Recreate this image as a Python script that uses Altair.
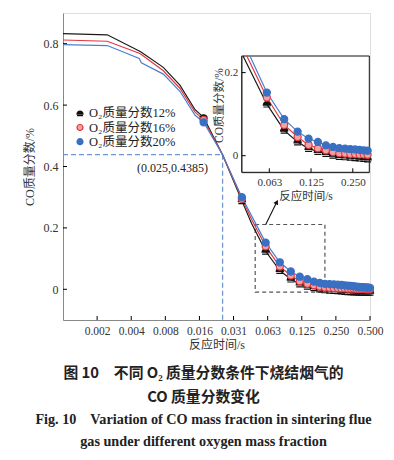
import altair as alt
import pandas as pd

# ---------------- data ----------------
series_names = ["O₂质量分数12%", "O₂质量分数16%", "O₂质量分数20%"]

# line-only samples (reaction time, s)
line_time = [0.000977, 0.0024, 0.0046, 0.0048, 0.0075, 0.0105, 0.0143, 0.025, 0.045]
line_black = [0.833, 0.829, 0.776, 0.772, 0.723, 0.665, 0.585, 0.4385, 0.215]
line_red = [0.812, 0.808, 0.769, 0.765, 0.712, 0.655, 0.577, 0.4385, 0.228]
line_blue = [0.797, 0.794, 0.752, 0.738, 0.701, 0.645, 0.567, 0.4385, 0.240]

# marker samples
mark_time = [0.017, 0.037, 0.06, 0.08, 0.10, 0.12, 0.14, 0.16, 0.18, 0.20, 0.22, 0.24,
             0.26, 0.28, 0.30, 0.32, 0.34, 0.36, 0.38, 0.40, 0.42, 0.44, 0.46, 0.48, 0.50]
mark_black = [0.560, 0.288, 0.124, 0.061, 0.033, 0.017, 0.010, 0.005, 0.001, -0.002, -0.003, -0.004,
              -0.005, -0.006, -0.007, -0.008, -0.008, -0.009, -0.009, -0.010, -0.010, -0.010, -0.010, -0.010, -0.010]
mark_red = [0.552, 0.295, 0.140, 0.074, 0.045, 0.026, 0.018, 0.013, 0.009, 0.006, 0.005, 0.004,
            0.004, 0.003, 0.003, 0.002, 0.002, 0.002, 0.001, 0.001, 0.001, 0.001, 0.000, 0.000, 0.000]
mark_blue = [0.544, 0.300, 0.152, 0.088, 0.058, 0.041, 0.033, 0.025, 0.021, 0.018, 0.017, 0.016,
             0.015, 0.014, 0.013, 0.012, 0.011, 0.010, 0.009, 0.008, 0.007, 0.007, 0.006, 0.006, 0.005]

# where each curve enters the inset through its top edge
inset_entry_time = [0.0404, 0.043, 0.0453]
inset_entry_value = [0.24, 0.24, 0.24]

# axes
x_ticks = [2 ** -9, 2 ** -8, 2 ** -7, 2 ** -6, 2 ** -5, 2 ** -4, 2 ** -3, 2 ** -2, 2 ** -1]
y_ticks = [0, 0.2, 0.4, 0.6, 0.8]
inset_x_ticks = [0.0625, 0.125, 0.25]
inset_y_ticks = [0, 0.2]
x_domain = [2 ** -10, 0.5]
y_domain = [-0.1, 0.9]
inset_x_domain = [0.0395, 0.329]
inset_y_domain = [-0.04, 0.24]

# annotation
mark_point_t, mark_point_v = 0.025, 0.4385
zoom_box_t = [0.0485, 0.2]
zoom_box_v = [-0.009, 0.211]
arrow_t = [0.0601, 0.0752]
arrow_v = [0.211, 0.284]

# ---------------- tables ----------------
lines_rows, pts_rows = [], []
for s, lv, mv in zip(series_names, [line_black, line_red, line_blue], [mark_black, mark_red, mark_blue]):
    for t, v in zip(line_time, lv):
        lines_rows.append({"s": s, "t": t, "v": v})
    for t, v in zip(mark_time, mv):
        lines_rows.append({"s": s, "t": t, "v": v})
        pts_rows.append({"s": s, "t": t, "v": v})
lines_df = pd.DataFrame(lines_rows).sort_values(["s", "t"])
pts_df = pd.DataFrame(pts_rows)

inset_lines = [{"s": s, "t": t, "v": v} for s, t, v in zip(series_names, inset_entry_time, inset_entry_value)]
inset_lines += [r for r in lines_rows if 0.06 <= r["t"] <= 0.34]
inset_lines_df = pd.DataFrame(inset_lines).sort_values(["s", "t"])
inset_pts_df = pts_df[(pts_df.t >= 0.06) & (pts_df.t <= 0.32)]

# ---------------- style ----------------
W, H = 307, 307
SERIF = "Liberation Serif, Noto Sans CJK SC"
C_LINE = ["#1a1a1a", "#e0393f", "#4a7fd0"]
C_FILL = ["#111111", "#f3a2a4", "#3a70c2"]
C_STROKE = ["#111111", "#e0393f", "#3a70c2"]
HALF = "M-1,0.25A1,1,0,0,1,1,0.25Z M-1,0.8L1,0.8"
SHAPES = [HALF, "circle", "circle"]

IX_RANGE = [178.7, 306.3]
IY_RANGE = [159.3, 43.0]
LEGEND_ROWS = [100.3, 128.7]

AX_COMMON = dict(grid=False, tickSize=0, titleFontWeight="normal", titleFont=SERIF, titleColor="#333",
                 labelFont="Liberation Serif", labelColor="#333", labelOverlap=False, labelFlush=False)

xs = alt.Scale(type="log", base=2, domain=x_domain, nice=False)
ys = alt.Scale(domain=y_domain, nice=False, zero=False)
x_axis = alt.Axis(values=x_ticks, format=".3f", title="反应时间/s", labelPadding=5,
                  titlePadding=3, labelFontSize=11.5, titleFontSize=12, **AX_COMMON)
y_axis = alt.Axis(values=y_ticks, labelExpr="datum.value == 0 ? '0' : format(datum.value, '.1f')",
                  title="CO质量分数/%", labelPadding=5, titlePadding=7, labelFontSize=12,
                  titleFontSize=12, **AX_COMMON)


def mx(f="t"):
    return alt.X(f"{f}:Q", scale=xs, axis=x_axis)


def my(f="v"):
    return alt.Y(f"{f}:Q", scale=ys, axis=y_axis)


ixs = alt.Scale(type="log", base=2, domain=inset_x_domain, nice=False, range=IX_RANGE, clamp=True)
iys = alt.Scale(domain=inset_y_domain, nice=False, zero=False, range=IY_RANGE, clamp=True)
ix_axis = alt.Axis(values=inset_x_ticks, format=".3f", title="反应时间/s", orient="bottom",
                   offset=IY_RANGE[0] - H, labelPadding=4, titlePadding=3,
                   labelFontSize=11, titleFontSize=11.5, **AX_COMMON)
iy_axis = alt.Axis(values=inset_y_ticks, labelExpr="datum.value == 0 ? '0' : format(datum.value, '.1f')",
                   title="CO质量分数/%", orient="left", offset=-IX_RANGE[0], labelPadding=4,
                   labelFontSize=11, titleFontSize=11.5, titleX=-17, titleY=92, **AX_COMMON)


def ix(f="t"):
    return alt.X(f"{f}:Q", scale=ixs, axis=ix_axis)


def iy(f="v"):
    return alt.Y(f"{f}:Q", scale=iys, axis=iy_axis)


sc_fill = alt.Scale(domain=series_names, range=C_FILL)
sc_stroke = alt.Scale(domain=series_names, range=C_STROKE)
sc_shape = alt.Scale(domain=series_names, range=SHAPES)
color_enc = alt.Color("s:N", scale=alt.Scale(domain=series_names, range=C_LINE), legend=None)
fill_enc = alt.Fill("s:N", scale=sc_fill, legend=None)
stroke_enc = alt.Stroke("s:N", scale=sc_stroke, legend=None)
shape_enc = alt.Shape("s:N", scale=sc_shape, legend=None)
order_enc = alt.Order("t:Q")

# ---------------- main panel ----------------
main_lines = alt.Chart(lines_df).mark_line(strokeWidth=1.2).encode(
    x=mx(), y=my(), color=color_enc, order=order_enc, detail="s:N")
main_pts = alt.Chart(pts_df).mark_point(filled=True, opacity=1, size=50, strokeWidth=1.2).encode(
    x=mx(), y=my(), fill=fill_enc, stroke=stroke_enc, shape=shape_enc)

hline = alt.Chart(pd.DataFrame({"t1": [x_domain[0]], "t2": [mark_point_t], "v": [mark_point_v]})).mark_rule(
    color="#6f96d6", strokeDash=[5, 3], strokeWidth=1.3).encode(x=mx("t1"), x2="t2:Q", y=my())
vline = alt.Chart(pd.DataFrame({"t": [mark_point_t], "v1": [mark_point_v], "v2": [y_domain[0]]})).mark_rule(
    color="#6f96d6", strokeDash=[5, 3], strokeWidth=1.3).encode(x=mx(), y=my("v1"), y2="v2:Q")
label = alt.Chart(pd.DataFrame({"t": [mark_point_t], "v": [mark_point_v],
                                "txt": ["(0.025,0.4385)"]})).mark_text(
    font="Liberation Serif", fontSize=12, color="#222", dx=-50, dy=13).encode(x=mx(), y=my(), text="txt:N")
zbox = alt.Chart(pd.DataFrame({"t1": [zoom_box_t[0]], "t2": [zoom_box_t[1]],
                               "v1": [zoom_box_v[0]], "v2": [zoom_box_v[1]]})).mark_rect(
    fillOpacity=0, stroke="#555555", strokeDash=[4, 3], strokeWidth=1.2).encode(
    x=mx("t1"), x2="t2:Q", y=my("v1"), y2="v2:Q")
arrow_df = pd.DataFrame({"t": arrow_t, "v": arrow_v})
arrow_line = alt.Chart(arrow_df).mark_line(color="#111", strokeWidth=1.1).encode(x=mx(), y=my())
arrow_head = alt.Chart(arrow_df.iloc[[1]]).mark_point(shape="triangle-up", filled=True, color="#111",
                                                      size=28, angle=27, opacity=1).encode(x=mx(), y=my())
xt = alt.Chart(pd.DataFrame({"t": x_ticks})).mark_rule(color="#000").encode(
    x=mx(), y=alt.value(H), y2=alt.value(H - 4))
yt = alt.Chart(pd.DataFrame({"v": y_ticks})).mark_rule(color="#000").encode(
    y=my(), x=alt.value(0), x2=alt.value(4))

main = alt.layer(hline, vline, label, zbox, arrow_line, arrow_head, xt, yt, main_lines, main_pts)

# ---------------- inset ----------------
ibox = alt.Chart(pd.DataFrame({"t1": [inset_x_domain[0]], "t2": [inset_x_domain[1]],
                               "v1": [inset_y_domain[0]], "v2": [inset_y_domain[1]]})).mark_rect(
    fillOpacity=0, stroke="#111", strokeWidth=1).encode(x=ix("t1"), x2="t2:Q", y=iy("v1"), y2="v2:Q")
ixt = alt.Chart(pd.DataFrame({"t": inset_x_ticks})).mark_rule(color="#000").encode(
    x=ix(), y=alt.value(IY_RANGE[0]), y2=alt.value(IY_RANGE[0] - 4))
iyt = alt.Chart(pd.DataFrame({"v": inset_y_ticks})).mark_rule(color="#000").encode(
    y=iy(), x=alt.value(IX_RANGE[0]), x2=alt.value(IX_RANGE[0] + 4))
inset_lines_c = alt.Chart(inset_lines_df).mark_line(strokeWidth=1.2).encode(
    x=ix(), y=iy(), color=color_enc, order=order_enc, detail="s:N")
inset_pts = alt.Chart(inset_pts_df).mark_point(filled=True, opacity=1, size=50, strokeWidth=1.2).encode(
    x=ix(), y=iy(), fill=fill_enc, stroke=stroke_enc, shape=shape_enc)

inset = alt.layer(ibox, ixt, iyt, inset_lines_c, inset_pts)

# ---------------- legend (uses the same fill / stroke / shape scales) ----------------
leg_df = pd.DataFrame({"s": series_names})
leg_y = alt.Y("s:N", scale=alt.Scale(type="point", domain=series_names, range=LEGEND_ROWS, padding=0),
              axis=None)
leg_sym = alt.Chart(leg_df).mark_point(filled=True, opacity=1, size=36, strokeWidth=1.2).encode(
    x=alt.value(17), y=leg_y, fill=fill_enc, stroke=stroke_enc, shape=shape_enc)
leg_txt = alt.Chart(leg_df).mark_text(align="left", baseline="middle", font=SERIF, fontSize=12.5,
                                      color="#222").encode(x=alt.value(26), y=leg_y, text="s:N")
legend_group = alt.layer(leg_sym, leg_txt)

chart = alt.layer(main, inset, legend_group).resolve_scale(x="independent", y="independent").properties(
    width=W, height=H,
    autosize=alt.AutoSizeParams(type="none"),
    padding={"left": 55, "top": 5, "right": 16, "bottom": 132},
    title=alt.TitleParams(
        text=["图 10　不同 O₂ 质量分数条件下烧结烟气的", "CO 质量分数变化"],
        subtitle=["Fig. 10　Variation of CO mass fraction in sintering flue",
                  "gas under different oxygen mass fraction"],
        orient="bottom", anchor="middle", frame="group", offset=15, dx=-13,
        font="Noto Sans CJK SC", fontSize=14.8, fontWeight="bold", lineHeight=24, color="#222",
        subtitleFont="Liberation Serif", subtitleFontSize=14.2, subtitleFontWeight="bold",
        subtitleLineHeight=22, subtitlePadding=9, subtitleColor="#222"),
).configure_view(stroke="#000", strokeWidth=1).configure_axis(
    domainColor="#000", domainWidth=1
).configure(background="white")

chart.save("out.html", embed_options={"renderer": "svg", "actions": False})
